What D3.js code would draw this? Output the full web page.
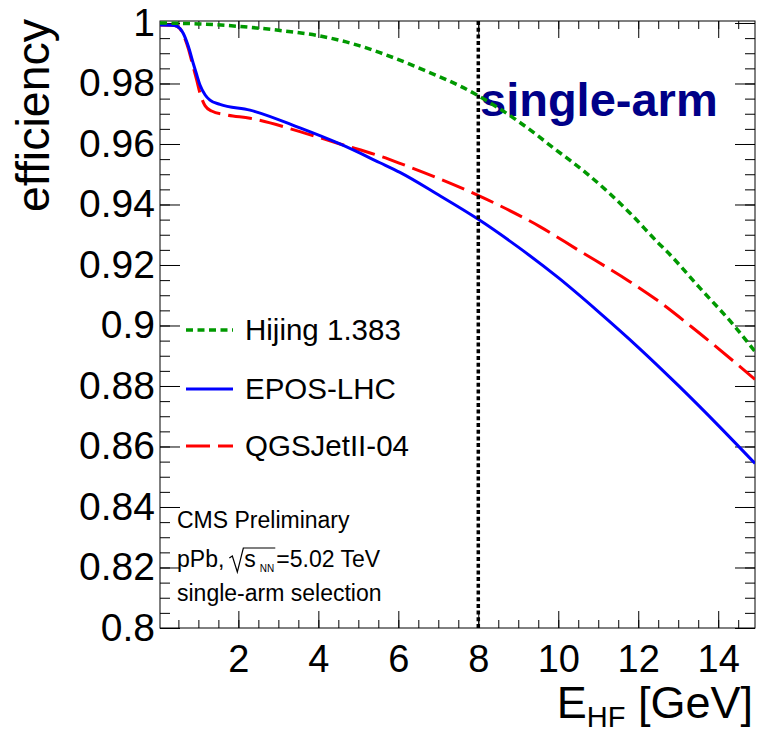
<!DOCTYPE html>
<html>
<head>
<meta charset="utf-8">
<script src="https://cdn.jsdelivr.net/npm/d3@7"></script>
<style>
  body { margin: 0; background: #fff; }
  svg { display: block; }
  text { font-family: "Liberation Sans", Arial, Helvetica, sans-serif; fill: #000; }
</style>
</head>
<body>
<svg id="chart" width="758" height="732"></svg>
<script>
// Efficiency vs. HF energy threshold for three event generators
const energyHijing = [0.04, 1, 2, 3, 4, 5, 5.54, 6.5, 7.9, 9, 9.95, 10.7, 11.79, 12.5, 12.73, 13.5, 14.42, 14.92];
const effHijing    = [1.0000, 0.9997, 0.9989, 0.9976, 0.9958, 0.9926, 0.9902, 0.9852, 0.9767, 0.9675, 0.9580, 0.9504, 0.9372, 0.9273, 0.9243, 0.9130, 0.8996, 0.8914];

const energyEPOS = [0.04, 0.4, 0.54, 0.62, 0.75, 0.87, 0.96, 1.04, 1.17, 1.29, 1.54, 2.29, 3.54, 4.54, 5.54, 6.04, 7, 8, 9, 10, 11, 12, 13, 14, 14.92];
const effEPOS    = [0.9993, 0.9992, 0.9982, 0.9966, 0.9922, 0.9867, 0.9828, 0.9795, 0.9762, 0.9745, 0.9731, 0.9712, 0.9653, 0.9600, 0.9538, 0.9506, 0.9432, 0.9351, 0.9259, 0.9158, 0.9046, 0.8928, 0.8802, 0.8670, 0.8544];

const energyQGS = [0.04, 0.4, 0.54, 0.62, 0.75, 0.87, 0.96, 1.04, 1.17, 1.33, 1.71, 2.29, 3.54, 4.54, 5.54, 6.04, 7.98, 8.54, 9.54, 10.49, 11.79, 12.45, 13.33, 14.92];
const effQGS    = [0.9993, 0.9992, 0.9981, 0.9962, 0.9915, 0.9855, 0.9810, 0.9768, 0.9726, 0.9709, 0.9696, 0.9685, 0.9641, 0.9600, 0.9560, 0.9536, 0.9431, 0.9396, 0.9327, 0.9250, 0.9145, 0.9086, 0.8996, 0.8822];

const seriesNames = ["Hijing 1.383", "EPOS-LHC", "QGSJetII-04"];
const selectionCut = 8;   // GeV

const xMajorTicks = [2, 4, 6, 8, 10, 12, 14];
const xMinorTicks = d3.range(0.5, 14.91, 0.5);
const yMajorTicks = [0.8, 0.82, 0.84, 0.86, 0.88, 0.9, 0.92, 0.94, 0.96, 0.98, 1];
const yMinorTicks = d3.range(0.805, 1.0001, 0.005);

const xDomain = [0.04, 14.92];
const yDomain = [0.8, 1.00066];

// ---- frame ----
const frame = { left: 160, right: 755, top: 21, bottom: 628 };
const svg = d3.select("#chart");
svg.append("rect").attr("width", 758).attr("height", 732).attr("fill", "#fff");

const x = d3.scaleLinear().domain(xDomain).range([frame.left, frame.right]);
const y = d3.scaleLinear().domain(yDomain).range([frame.bottom, frame.top]);

const styleAxis = g => {
  g.select(".domain").remove();
  g.selectAll(".tick line").attr("stroke", "#000").attr("stroke-width", 1);
};

// bottom axis with labels
svg.append("g").attr("transform", `translate(0,${frame.bottom})`)
  .call(d3.axisBottom(x).tickValues(xMajorTicks).tickSizeInner(-17).tickSizeOuter(0).tickPadding(17).tickFormat(d3.format("d")))
  .call(styleAxis)
  .call(g => g.selectAll("text").attr("font-size", 38).attr("font-family", "Liberation Sans, Arial, sans-serif").attr("fill", "#000"));
svg.append("g").attr("transform", `translate(0,${frame.bottom})`)
  .call(d3.axisBottom(x).tickValues(xMinorTicks).tickSizeInner(-8).tickSizeOuter(0).tickFormat(""))
  .call(styleAxis);
// top axis (ticks only)
svg.append("g").attr("transform", `translate(0,${frame.top})`)
  .call(d3.axisTop(x).tickValues(xMajorTicks).tickSizeInner(-17).tickSizeOuter(0).tickFormat(""))
  .call(styleAxis);
svg.append("g").attr("transform", `translate(0,${frame.top})`)
  .call(d3.axisTop(x).tickValues(xMinorTicks).tickSizeInner(-8).tickSizeOuter(0).tickFormat(""))
  .call(styleAxis);
// left axis with labels
svg.append("g").attr("transform", `translate(${frame.left},0)`)
  .call(d3.axisLeft(y).tickValues(yMajorTicks).tickSizeInner(-20).tickSizeOuter(0).tickPadding(5).tickFormat(d3.format("~g")))
  .call(styleAxis)
  .call(g => g.selectAll("text").attr("font-size", 39).attr("font-family", "Liberation Sans, Arial, sans-serif").attr("fill", "#000"));
svg.append("g").attr("transform", `translate(${frame.left},0)`)
  .call(d3.axisLeft(y).tickValues(yMinorTicks).tickSizeInner(-10).tickSizeOuter(0).tickFormat(""))
  .call(styleAxis);
// right axis (ticks only)
svg.append("g").attr("transform", `translate(${frame.right},0)`)
  .call(d3.axisRight(y).tickValues(yMajorTicks).tickSizeInner(-20).tickSizeOuter(0).tickFormat(""))
  .call(styleAxis);
svg.append("g").attr("transform", `translate(${frame.right},0)`)
  .call(d3.axisRight(y).tickValues(yMinorTicks).tickSizeInner(-10).tickSizeOuter(0).tickFormat(""))
  .call(styleAxis);

// frame box
svg.append("rect")
  .attr("x", frame.left).attr("y", frame.top)
  .attr("width", frame.right - frame.left).attr("height", frame.bottom - frame.top)
  .attr("fill", "none").attr("stroke", "#000").attr("stroke-width", 1);

// axis titles
svg.append("text")
  .attr("transform", "translate(49,19) rotate(-90)")
  .attr("text-anchor", "end")
  .attr("font-size", 46.5)
  .text("efficiency");

const xTitle = svg.append("text")
  .attr("x", 753).attr("y", 718)
  .attr("text-anchor", "end")
  .attr("font-size", 45);
xTitle.append("tspan").text("E");
xTitle.append("tspan").attr("font-size", 29).attr("dy", 9).text("HF");
xTitle.append("tspan").attr("dy", -9).text(" [GeV]");

// selection label
svg.append("text")
  .attr("x", 480).attr("y", 116)
  .attr("font-size", 47).attr("font-weight", "bold")
  .style("fill", "#000088")
  .text("single-arm");

// ---- curves ----
const clip = svg.append("defs").append("clipPath").attr("id", "plotArea");
clip.append("rect").attr("x", frame.left).attr("y", frame.top)
  .attr("width", frame.right - frame.left).attr("height", frame.bottom - frame.top);

const line = d3.line().x(d => x(d[0])).y(d => y(d[1])).curve(d3.curveMonotoneX);

const series = [
  { name: seriesNames[0], xs: energyHijing, ys: effHijing, color: "#009900", width: 3.5, dash: "7,4.5" },
  { name: seriesNames[1], xs: energyEPOS,   ys: effEPOS,   color: "#0000ff", width: 3,   dash: null },
  { name: seriesNames[2], xs: energyQGS,    ys: effQGS,    color: "#ff0000", width: 3,   dash: "24,8" }
];

const curves = svg.append("g").attr("clip-path", "url(#plotArea)");
series.slice().reverse().forEach(s => {
  curves.append("path")
    .datum(d3.zip(s.xs, s.ys))
    .attr("d", line)
    .attr("fill", "none")
    .attr("stroke", s.color)
    .attr("stroke-width", s.width)
    .attr("stroke-dasharray", s.dash);
});

// selection threshold
svg.append("line")
  .attr("x1", x(selectionCut)).attr("x2", x(selectionCut))
  .attr("y1", frame.top).attr("y2", frame.bottom)
  .attr("stroke", "#000").attr("stroke-width", 3.5)
  .attr("stroke-dasharray", "4,2.7");

// ---- legend ----
const legendRows = [330, 389, 446];
series.forEach((s, i) => {
  const ly = legendRows[i];
  svg.append("line")
    .attr("x1", 186).attr("x2", 233).attr("y1", ly).attr("y2", ly)
    .attr("stroke", s.color).attr("stroke-width", s.width)
    .attr("stroke-dasharray", s.dash);
  svg.append("text")
    .attr("x", 245).attr("y", ly + 10)
    .attr("font-size", 29.5)
    .text(s.name);
});

// ---- CMS label ----
const info = svg.append("g").attr("font-size", 23);
info.append("text").attr("x", 177).attr("y", 528).text("CMS Preliminary");
info.append("text").attr("x", 177).attr("y", 601).text("single-arm selection");

{
  const base = 567;
  let cx = 177;
  const t1 = info.append("text").attr("x", cx).attr("y", base).text("pPb,");
  cx += t1.node().getComputedTextLength() + 5;
  const rStart = cx;
  const sText = info.append("text").attr("x", rStart + 15).attr("y", base).text("s");
  const sEnd = rStart + 15 + sText.node().getComputedTextLength();
  const nn = info.append("text").attr("x", sEnd + 4).attr("y", base + 5).attr("font-size", 10).text("NN");
  const nnEnd = sEnd + 4 + nn.node().getComputedTextLength();
  info.append("path")
    .attr("d", `M${rStart},${base - 9} L${rStart + 3},${base - 11} L${rStart + 8},${base + 5} L${rStart + 14},${base - 19} L${nnEnd + 1},${base - 19}`)
    .attr("fill", "none").attr("stroke", "#000").attr("stroke-width", 1.2);
  info.append("text").attr("x", nnEnd + 2).attr("y", base).text("=5.02 TeV");
}
</script>
</body>
</html>
